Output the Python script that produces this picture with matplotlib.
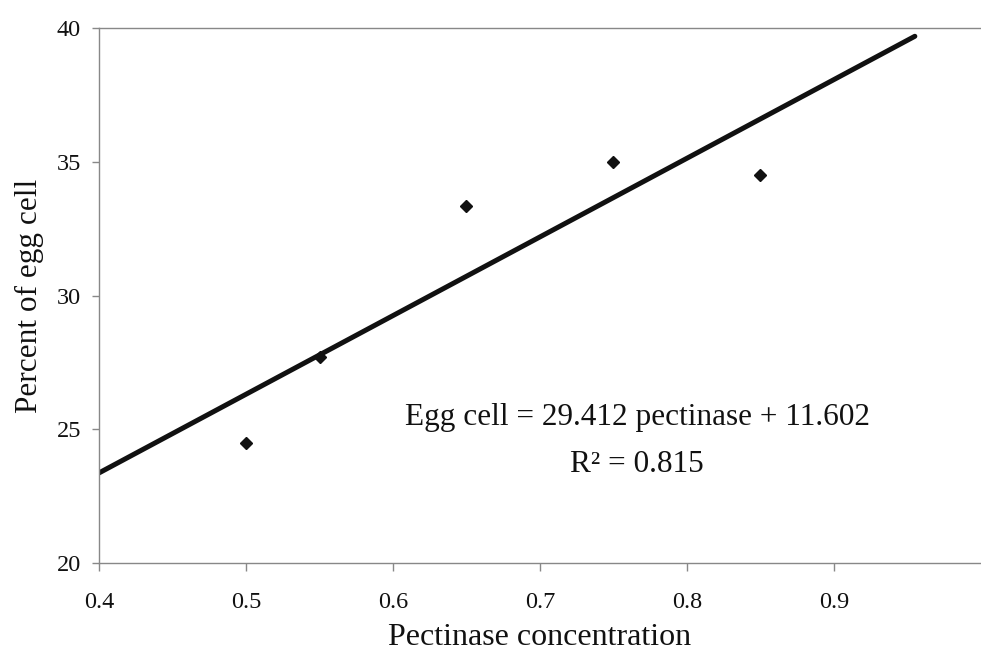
import matplotlib
matplotlib.use("Agg")
import matplotlib.pyplot as plt
import numpy as np

plt.rcParams['font.family'] = ['Liberation Serif', 'DejaVu Serif']

# data
conc = [0.50, 0.55, 0.65, 0.75, 0.85]
egg_pct = [24.5, 27.7, 33.35, 35.0, 34.5]
slope = 29.412
intercept = 11.602
r2 = 0.815
fit_x = [0.40, 0.955]
xticks = [0.4, 0.5, 0.6, 0.7, 0.8, 0.9]
xticklabels = ["0.4", "0.5", "0.6", "0.7", "0.8", "0.9"]
yticks = [20, 25, 30, 35, 40]

fig = plt.figure(figsize=(9.81, 6.63), dpi=100)
ax = fig.add_axes([99/981, 1 - 563/663, 1 - 99/981, (563 - 28)/663])

fx = np.array(fit_x)
ax.plot(fx, slope * fx + intercept, color='#111111', lw=3.6, solid_capstyle='round', zorder=2)
ax.plot(conc, egg_pct, linestyle='none', marker='D', markersize=6.5,
        color='#111111', zorder=3)

ax.set_xlim(0.4, 1.0)
ax.set_ylim(20, 40)
ax.set_xticks(xticks)
ax.set_xticklabels(xticklabels)
ax.set_yticks(yticks)

for s in ['left', 'top', 'bottom']:
    ax.spines[s].set_color('#888888')
    ax.spines[s].set_linewidth(1.0)
ax.spines['right'].set_visible(False)

ax.tick_params(axis='x', direction='out', length=6, width=1, color='#888888',
               labelsize=17.5, pad=15, labelcolor='#111111')
ax.tick_params(axis='y', direction='out', length=5, width=1, color='#888888',
               labelsize=17.5, pad=8, labelcolor='#111111')

ax.set_xlabel("Pectinase concentration", fontsize=23, color='#111111', labelpad=7)
ax.set_ylabel("Percent of egg cell", fontsize=22.5, color='#111111', labelpad=9)

ax.text(0.766, 25.45, "Egg cell = %.3f pectinase + %.3f" % (slope, intercept),
        fontsize=22.5, ha='center', va='center', color='#111111')
ax.text(0.766, 23.7, "R\u00b2 = %.3f" % r2,
        fontsize=22.5, ha='center', va='center', color='#111111')

fig.savefig("out.png", dpi=100)
